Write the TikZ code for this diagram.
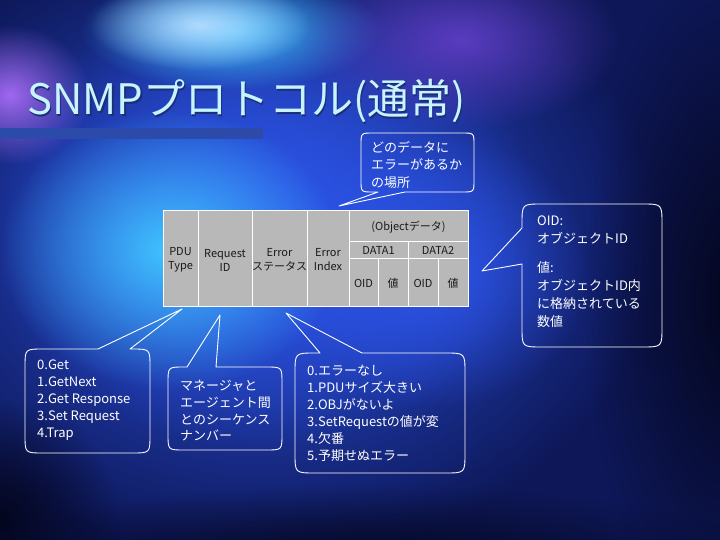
\documentclass[tikz,border=0pt]{standalone}
\usepackage{fontspec}
\setmainfont{Noto Sans CJK JP}
\usetikzlibrary{fadings}
\tikzfading[name=glow, inner color=transparent!0, outer color=transparent!100]
\definecolor{bgbase}{HTML}{0E1858}
\definecolor{bgblue}{HTML}{2C54E8}
\definecolor{bgcyan}{HTML}{40C4FF}
\definecolor{bglight}{HTML}{B0DAFF}
\definecolor{bgpurple}{HTML}{A068F0}
\definecolor{bgviolet}{HTML}{5A3CC0}
\definecolor{bgdark}{HTML}{04061E}
\definecolor{barblue}{HTML}{2C4AAA}
\definecolor{titlecol}{HTML}{C8F4FF}
\definecolor{titleshadow}{HTML}{1A2E7A}
\definecolor{tablegray}{HTML}{B8B8B8}
\definecolor{tabletext}{HTML}{1A1A1A}
\begin{document}
\begin{tikzpicture}[x=1pt,y=-1pt,
  callout/.style={draw=white, line width=0.9pt, line join=round},
  ctext/.style={text=white, font=\fontsize{13}{17}\selectfont, align=left, anchor=north west, inner sep=0pt},
  ttext/.style={text=tabletext, font=\fontsize{11}{14}\selectfont, align=center, inner sep=0pt},
  grid/.style={draw=white, line width=1pt}]
\useasboundingbox (0,0) rectangle (720,540);
% background
\fill[bgbase] (0,0) rectangle (720,540);
\fill[bgblue, path fading=glow] (260,240) ellipse [x radius=400, y radius=320];
\fill[bgblue, path fading=glow] (260,220) ellipse [x radius=280, y radius=230];
\fill[bgblue, path fading=glow] (430,270) ellipse [x radius=160, y radius=140];
\fill[bgcyan, path fading=glow] (170,250) ellipse [x radius=170, y radius=140];
\fill[bgcyan, path fading=glow] (230,30) ellipse [x radius=150, y radius=60];
\fill[bglight, path fading=glow] (200,25) ellipse [x radius=110, y radius=45];
\fill[bgpurple, path fading=glow] (10,95) ellipse [x radius=80, y radius=70];
\fill[bgviolet, path fading=glow] (460,40) ellipse [x radius=160, y radius=90];
\fill[bgdark, path fading=glow] (735,300) ellipse [x radius=150, y radius=340];
\fill[bgdark, path fading=glow] (360,565) ellipse [x radius=420, y radius=80];
\fill[bgdark, path fading=glow] (0,520) ellipse [x radius=120, y radius=120];
% title and bar
\fill[barblue] (0,128) rectangle (263,139);
\node[anchor=base west, inner sep=0pt, text=titleshadow, font=\fontsize{42}{46}\selectfont] (titlesh) at (28.5,116.5) {SNMPプロトコル(通常)};
\node[anchor=base west, inner sep=0pt, text=titlecol, font=\fontsize{42}{46}\selectfont] (title) at (27,115) {SNMPプロトコル(通常)};
% table
\fill[tablegray] (163,211) rectangle (468,306);
\draw[grid] (163,211) rectangle (468,306);
\draw[grid] (198,211) -- (198,306) (252,211) -- (252,306) (307,211) -- (307,306) (349,211) -- (349,306);
\draw[grid] (349,241) -- (468,241) (349,258) -- (468,258);
\draw[grid] (408,241) -- (408,306) (378,258) -- (378,306) (438,258) -- (438,306);
\node[ttext] (pdu) at (180.5,260) {PDU\\Type};
\node[ttext] (req) at (225,260) {Request\\ID};
\node[ttext] (errst) at (279.5,260) {Error\\ステータス};
\node[ttext] (errix) at (328,260) {Error\\Index};
\node[ttext] (obj) at (408.5,227) {(Objectデータ)};
\node[ttext] (d1) at (378.5,250) {DATA1};
\node[ttext] (d2) at (438,250) {DATA2};
\node[ttext] (oid1) at (363.5,283) {OID};
\node[ttext] (val1) at (393,283) {値};
\node[ttext] (oid2) at (423,283) {OID};
\node[ttext] (val2) at (453,283) {値};
% callout 1 (top)
\draw[callout] (373,133) -- (462,133) .. controls (474,133) .. (474,145) -- (474,180) .. controls (474,192) .. (462,192) -- (405,192) -- (339,206) -- (378,192) -- (373,192) .. controls (361,192) .. (361,180) -- (361,145) .. controls (361,133) .. (373,133) -- cycle;
\node[ctext, font=\fontsize{13}{17.5}\selectfont] (t1) at (371,141) {どのデータに\\エラーがあるか\\の場所};
% callout 2 (right)
\draw[callout] (542,204) -- (642,204) .. controls (662,204) .. (662,224) -- (662,327) .. controls (662,347) .. (642,347) -- (542,347) .. controls (522,347) .. (522,327) -- (522,264) -- (482,271) -- (522,228) -- (522,224) .. controls (522,204) .. (542,204) -- cycle;
\node[ctext, font=\fontsize{13}{18}\selectfont] (t2) at (537,216) {OID:\\オブジェクトID\\[11pt]値:\\オブジェクトID内\\に格納されている\\数値};
% callout 3 (bottom left)
\draw[callout] (43,349) -- (98,349) -- (182,309) -- (130,349) -- (132,349) .. controls (150,349) .. (150,367) -- (150,435) .. controls (150,453) .. (132,453) -- (43,453) .. controls (25,453) .. (25,435) -- (25,367) .. controls (25,349) .. (43,349) -- cycle;
\node[ctext] (t3) at (37,360) {0.Get\\1.GetNext\\2.Get Response\\3.Set Request\\4.Trap};
% callout 4 (bottom middle)
\draw[callout] (184,367) -- (187,367) -- (220,315) -- (216,367) -- (266,367) .. controls (282,367) .. (282,383) -- (282,434) .. controls (282,450) .. (266,450) -- (184,450) .. controls (168,450) .. (168,434) -- (168,383) .. controls (168,367) .. (184,367) -- cycle;
\node[ctext, font=\fontsize{13}{16.7}\selectfont] (t4) at (180,380) {マネージャと\\エージェント間\\とのシーケンス\\ナンバー};
% callout 5 (bottom right)
\draw[callout] (315,353) -- (320,353) -- (286,313) -- (362,353) -- (445,353) .. controls (465,353) .. (465,373) -- (465,453) .. controls (465,473) .. (445,473) -- (315,473) .. controls (295,473) .. (295,453) -- (295,373) .. controls (295,353) .. (315,353) -- cycle;
\node[ctext] (t5) at (307,365) {0.エラーなし\\1.PDUサイズ大きい\\2.OBJがないよ\\3.SetRequestの値が変\\4.欠番\\5.予期せぬエラー};
\end{tikzpicture}
\end{document}
